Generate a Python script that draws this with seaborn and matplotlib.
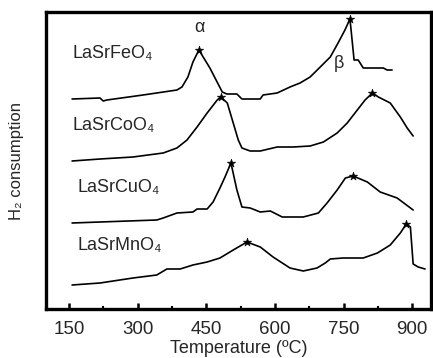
import matplotlib
matplotlib.use("Agg")
import matplotlib.pyplot as plt
import seaborn as sns
import pandas as pd
from matplotlib.ticker import MultipleLocator

sns.set_theme(style="white")
plt.rcParams['font.family'] = ['Liberation Sans', 'DejaVu Sans']

# ---- data (temperature in ºC, signal in arbitrary units) ----
fe_T = [157, 218, 225, 233, 312, 386, 397, 410, 421, 434, 458, 485, 495, 517, 528,
        568, 574, 605, 633, 655, 677, 699, 721, 738, 753, 764, 773, 782, 793, 837, 845, 856]
fe_y = [210, 211, 208, 209, 214, 219, 222, 232, 247, 259, 241, 217, 215, 215, 210,
        210, 214, 216, 222, 226, 232, 242, 252, 266, 279, 290, 249, 249, 241, 241, 239, 239]

co_T = [157, 218, 290, 356, 386, 408, 430, 452, 474, 482, 496, 509, 520, 528, 546,
        568, 605, 640, 677, 706, 736, 758, 780, 797, 813, 826, 852, 874, 889, 902]
co_y = [148, 150, 152, 156, 161, 169, 182, 196, 209, 212, 206, 186, 169, 161, 158,
        158, 162, 162, 163, 167, 176, 186, 199, 209, 216, 212, 206, 192, 181, 173]

cu_T = [157, 218, 342, 356, 386, 421, 430, 452, 465, 480, 491, 504, 517, 528, 546,
        568, 590, 616, 662, 695, 714, 736, 754, 771, 802, 830, 867, 902]
cu_y = [86, 87, 89, 91, 96, 97, 100, 100, 107, 121, 132, 146, 119, 102, 101,
        97, 98, 92, 92, 96, 106, 119, 131, 133, 127, 117, 111, 99]

mn_T = [157, 218, 290, 342, 364, 393, 421, 452, 480, 509, 539, 568, 596, 633, 662,
        692, 710, 721, 749, 793, 824, 852, 874, 887, 896, 902, 913, 928]
mn_y = [24, 26, 31, 34, 40, 40, 44, 47, 51, 59, 67, 62, 52, 41, 38,
        41, 46, 50, 51, 51, 56, 64, 76, 85, 82, 45, 42, 40]

# peak markers
peak_T = [434, 764, 482, 813, 504, 771, 539, 887]
peak_y = [259, 290, 212, 216, 146, 133, 67, 85]

labels = ["LaSrFeO\u2084", "LaSrCoO\u2084", "LaSrCuO\u2084", "LaSrMnO\u2084"]
x_ticks = [150, 300, 450, 600, 750, 900]

fig = plt.figure(figsize=(4.33, 3.58), dpi=100)
ax = fig.add_axes([46/433, 1 - 309/358, 385/433, 297/358])

for T, y in [(fe_T, fe_y), (co_T, co_y), (cu_T, cu_y), (mn_T, mn_y)]:
    df = pd.DataFrame({"T": T, "y": y})
    sns.lineplot(data=df, x="T", y="y", ax=ax, color="black", linewidth=1.2,
                 sort=False, estimator=None)

sns.scatterplot(x=peak_T, y=peak_y, ax=ax, marker="*", s=40, color="black",
                edgecolor="black", linewidth=0.4, zorder=5)

ax.set_xlim(100, 941)
ax.set_ylim(0, 297)

# labels of curves
ax.text(157, 255, labels[0], fontsize=13, va="center", ha="left")
ax.text(157, 183, labels[1], fontsize=13, va="center", ha="left")
ax.text(168, 121, labels[2], fontsize=13, va="center", ha="left")
ax.text(168, 64, labels[3], fontsize=13, va="center", ha="left")
ax.text(435, 281, "\u03b1", fontsize=13, va="center", ha="center")
ax.text(740, 246, "\u03b2", fontsize=13, va="center", ha="center")

ax.set_xticks(x_ticks)
ax.set_xticklabels([str(t) for t in x_ticks])
ax.xaxis.set_minor_locator(MultipleLocator(75))
ax.set_yticks([])
ax.tick_params(axis="x", which="major", direction="in", length=4, width=1.8,
               labelsize=13.5, pad=9, bottom=True, color="black")
ax.tick_params(axis="x", which="minor", direction="in", length=2.5, width=1.5,
               bottom=True, color="black")

ax.set_xlabel("Temperature (\u00baC)", fontsize=13, labelpad=1)
ax.set_ylabel("H\u2082 consumption", fontsize=12, labelpad=16)

for s in ax.spines.values():
    s.set_linewidth(2.4)
    s.set_color("black")

fig.savefig("out.png", dpi=100)
